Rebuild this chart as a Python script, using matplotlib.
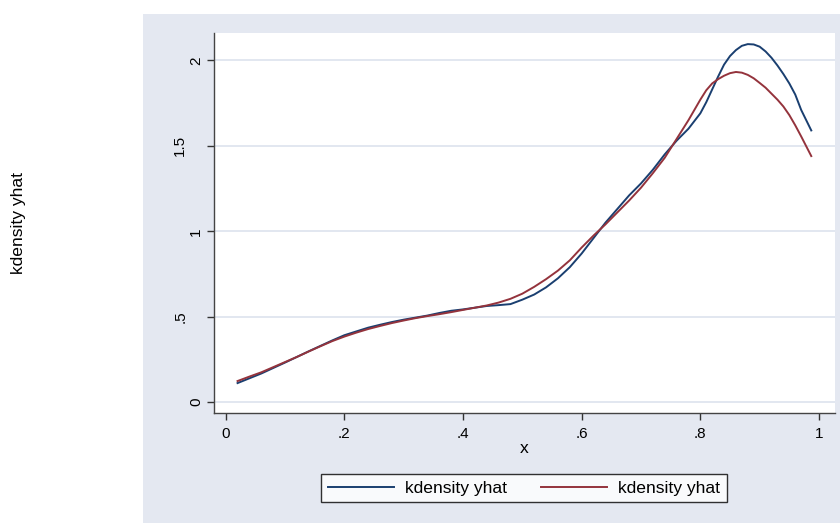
#!/usr/bin/env python3

import matplotlib
matplotlib.use('Agg')
import matplotlib.pyplot as plt
from matplotlib.patches import Rectangle
from matplotlib.transforms import ScaledTranslation

plt.rcParams['font.family'] = ['Liberation Sans', 'DejaVu Sans']

x = [0.02, 0.04, 0.06, 0.08, 0.10, 0.12, 0.14, 0.16, 0.18, 0.20,
     0.22, 0.24, 0.26, 0.28, 0.30, 0.32, 0.34, 0.36, 0.38, 0.40,
     0.42, 0.44, 0.46, 0.48, 0.50, 0.52, 0.54, 0.56, 0.58, 0.60,
     0.62, 0.64, 0.66, 0.68, 0.70, 0.72, 0.74, 0.76, 0.78, 0.79,
     0.80, 0.81, 0.82, 0.83, 0.84, 0.85, 0.86, 0.87, 0.88, 0.89,
     0.90, 0.91, 0.92, 0.93, 0.94, 0.95, 0.96, 0.97, 0.987]
blue = [0.112, 0.14, 0.168, 0.20, 0.232, 0.265, 0.298, 0.33, 0.362, 0.392,
        0.414, 0.436, 0.453, 0.469, 0.483, 0.495, 0.507, 0.522, 0.535, 0.543,
        0.553, 0.563, 0.568, 0.574, 0.60, 0.63, 0.672, 0.725, 0.79, 0.87,
        0.96, 1.05, 1.13, 1.21, 1.28, 1.36, 1.45, 1.53, 1.60, 1.645,
        1.69, 1.755, 1.83, 1.905, 1.975, 2.025, 2.06, 2.085, 2.095, 2.093,
        2.08, 2.052, 2.015, 1.97, 1.92, 1.865, 1.80, 1.71, 1.59]
red = [0.124, 0.15, 0.175, 0.205, 0.235, 0.265, 0.297, 0.328, 0.358, 0.384,
       0.407, 0.428, 0.446, 0.463, 0.478, 0.492, 0.504, 0.515, 0.527, 0.54,
       0.553, 0.566, 0.583, 0.605, 0.635, 0.675, 0.72, 0.77, 0.83, 0.905,
       0.975, 1.04, 1.11, 1.18, 1.255, 1.34, 1.43, 1.54, 1.65, 1.71,
       1.77, 1.825, 1.865, 1.89, 1.91, 1.925, 1.932, 1.928, 1.915, 1.895,
       1.868, 1.84, 1.805, 1.77, 1.73, 1.68, 1.62, 1.555, 1.44]
series_labels = ['kdensity yhat', 'kdensity yhat']
xticks = [0, 0.2, 0.4, 0.6, 0.8, 1]
xticklabels = ['0', '.2', '.4', '.6', '.8', '1']
yticks = [0, 0.5, 1, 1.5, 2]
yticklabels = ['0', '.5', '1', '1.5', '2']

W, H = 840, 523
fig = plt.figure(figsize=(W / 100, H / 100), dpi=100)
fig.patch.set_facecolor('white')

# shaded graph region
fig.patches.append(Rectangle((143 / W, 0), 1 - 143 / W, (H - 14) / H,
                             transform=fig.transFigure, facecolor='#e4e8f1',
                             edgecolor='none', zorder=-10))

ax = fig.add_axes([214 / W, 1 - 413 / H, (835 - 214) / W, (413 - 33) / H])
ax.set_facecolor('white')

ax.plot(x, blue, color='#1a3f70', lw=1.4, label=series_labels[0])
ax.plot(x, red, color='#94333c', lw=1.4, label=series_labels[1])

ax.set_xlim(-0.0197, 1.027)
ax.set_ylim(-0.063, 2.16)
ax.set_xticks(xticks)
ax.set_xticklabels(xticklabels)
ax.set_yticks(yticks)
ax.set_yticklabels(yticklabels, rotation=90, va='center')
ax.tick_params(axis='both', length=5, width=1, color='#333333', labelsize=11, pad=5)
ax.tick_params(axis='y', length=4.8, pad=3)
# the decimal labels sit further left in the original
for lab in ax.get_yticklabels():
    if '.' in lab.get_text():
        lab.set_transform(lab.get_transform() +
                          ScaledTranslation(-0.16, 0, fig.dpi_scale_trans))
ax.grid(axis='y', color='#dde3ee', lw=1.2)
ax.set_axisbelow(True)
for side in ['top', 'right']:
    ax.spines[side].set_visible(False)
for side in ['left', 'bottom']:
    ax.spines[side].set_color('#444444')
    ax.spines[side].set_linewidth(1)

ax.set_xlabel('x', fontsize=12.6, labelpad=0)
fig.text(19 / W, 1 - 223 / H, 'kdensity yhat', rotation=90,
         ha='center', va='center', fontsize=12.6)

leg = ax.legend(loc='center', bbox_to_anchor=(524 / W, 1 - 488 / H),
                bbox_transform=fig.transFigure, ncol=2, frameon=True,
                fancybox=False, edgecolor='black', fontsize=12.6,
                handlelength=3.8, handletextpad=0.65, columnspacing=1.9,
                borderpad=0.35)
leg.get_frame().set_linewidth(1)

fig.savefig('out.png', dpi=100)
